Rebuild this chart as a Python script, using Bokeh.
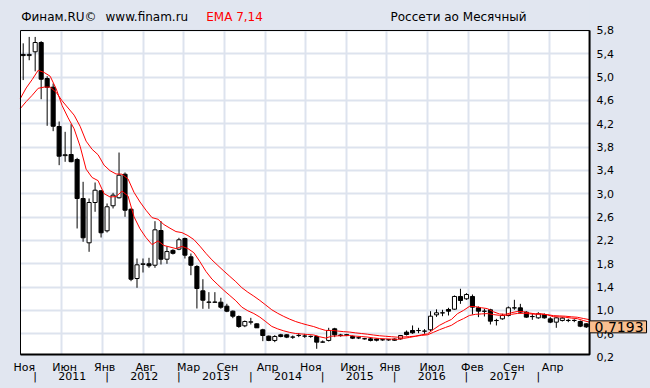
from bokeh.plotting import figure
from bokeh.models import (Range1d, FixedTicker, CustomJSTickFormatter, LinearAxis,
                          Label, ColumnDataSource, BoxAnnotation)
from bokeh.embed import file_html
from bokeh.resources import INLINE

# ---- data (monthly candles, Nov 2010 .. Sep 2018) ----
opens = [5.39, 5.37, 5.435, 5.594, 4.977, 4.828, 4.154, 3.655, 3.674, 3.588,
         2.92, 2.16, 2.851, 3.052, 2.366, 2.795, 2.932, 3.336, 2.736, 1.548,
         1.79, 1.80, 1.776, 2.371, 1.879, 2.03, 2.051, 2.234, 1.92, 1.754,
         1.337, 1.14, 1.14, 1.142, 1.074, 0.988, 0.897, 0.737, 0.80, 0.771,
         0.669, 0.56, 0.486, 0.583, 0.583, 0.543, 0.571, 0.56, 0.554, 0.554,
         0.457, 0.486, 0.686, 0.58, 0.58, 0.554, 0.53, 0.514, 0.514, 0.51,
         0.497, 0.497, 0.51, 0.514, 0.628, 0.657, 0.655, 0.645, 0.669, 0.926,
         0.958, 1.017, 1.022, 1.24, 1.2, 1.24, 1.046, 0.986, 1.012, 0.827,
         0.857, 0.914, 1.044, 1.046, 0.971, 0.895, 0.874, 0.931, 0.857, 0.80,
         0.829, 0.83, 0.83, 0.811, 0.771]
highs = [5.58, 5.69, 5.69, 5.617, 5.016, 4.891, 4.24, 4.063, 4.194, 3.617,
         3.206, 2.92, 3.194, 3.06, 2.834, 3.017, 3.708, 3.366, 2.749, 1.891,
         1.891, 1.903, 2.531, 2.531, 2.10, 2.05, 2.246, 2.25, 1.977, 1.777,
         1.536, 1.314, 1.314, 1.218, 1.115, 1.0, 0.914, 0.828, 0.874, 0.78,
         0.686, 0.571, 0.577, 0.60, 0.594, 0.571, 0.611, 0.60, 0.571, 0.571,
         0.486, 0.703, 0.703, 0.60, 0.60, 0.57, 0.55, 0.53, 0.53, 0.52,
         0.51, 0.51, 0.52, 0.58, 0.657, 0.743, 0.703, 0.68, 0.988, 1.02,
         1.012, 1.046, 1.257, 1.372, 1.297, 1.274, 1.069, 1.029, 1.029, 0.857,
         0.943, 1.069, 1.183, 1.114, 0.988, 0.943, 0.971, 0.95, 0.886, 0.886,
         0.886, 0.857, 0.85, 0.829, 0.78]
lows = [4.95, 5.29, 5.10, 4.622, 4.166, 4.074, 3.491, 3.549, 3.54, 2.406,
        2.178, 2.006, 2.692, 2.251, 2.337, 2.749, 2.92, 2.606, 1.502, 1.389,
        1.651, 1.732, 1.732, 1.788, 1.80, 1.96, 2.034, 1.891, 1.605, 1.034,
        1.029, 1.029, 1.14, 1.029, 0.971, 0.868, 0.703, 0.714, 0.76, 0.70,
        0.474, 0.474, 0.457, 0.54, 0.526, 0.514, 0.543, 0.531, 0.531, 0.343,
        0.446, 0.468, 0.543, 0.55, 0.56, 0.51, 0.51, 0.50, 0.47, 0.47,
        0.48, 0.48, 0.48, 0.50, 0.571, 0.60, 0.611, 0.60, 0.646, 0.89,
        0.902, 0.914, 1.012, 1.114, 1.183, 0.931, 0.886, 0.897, 0.76, 0.743,
        0.84, 0.897, 1.012, 0.954, 0.874, 0.84, 0.857, 0.86, 0.783, 0.703,
        0.811, 0.80, 0.80, 0.714, 0.70]
closes = [5.37, 5.39, 5.594, 4.965, 4.828, 4.159, 3.645, 3.67, 3.551, 2.92,
          2.246, 2.851, 3.062, 2.332, 2.778, 2.977, 3.319, 2.719, 1.536, 1.783,
          1.80, 1.766, 2.383, 1.879, 2.01, 1.98, 2.212, 1.948, 1.776, 1.377,
          1.176, 1.145, 1.145, 1.056, 0.988, 0.902, 0.726, 0.811, 0.805, 0.703,
          0.571, 0.486, 0.554, 0.554, 0.543, 0.545, 0.573, 0.562, 0.556, 0.457,
          0.46, 0.657, 0.583, 0.571, 0.585, 0.525, 0.532, 0.516, 0.486, 0.49,
          0.499, 0.499, 0.49, 0.571, 0.588, 0.617, 0.657, 0.647, 0.902, 0.96,
          0.96, 0.988, 1.24, 1.171, 1.274, 1.057, 0.988, 0.988, 0.817, 0.829,
          0.914, 1.046, 1.046, 0.971, 0.886, 0.897, 0.943, 0.874, 0.80, 0.874,
          0.869, 0.829, 0.829, 0.731, 0.7193]

# EMA 7 and EMA 14 line values, Oct 2010 .. Sep 2018 (one per month)
ema7 = [4.63, 4.815, 4.959, 5.118, 5.080, 5.016, 4.802, 4.512, 4.302, 4.115,
        3.816, 3.423, 3.280, 3.226, 3.003, 2.946, 2.953, 3.045, 2.963, 2.606,
        2.400, 2.250, 2.129, 2.193, 2.114, 2.088, 2.061, 2.099, 2.061, 1.990,
        1.837, 1.671, 1.540, 1.441, 1.345, 1.256, 1.167, 1.057, 0.995, 0.948,
        0.887, 0.808, 0.727, 0.684, 0.651, 0.624, 0.605, 0.597, 0.588, 0.580,
        0.549, 0.527, 0.559, 0.565, 0.567, 0.571, 0.560, 0.553, 0.544, 0.529,
        0.519, 0.514, 0.510, 0.505, 0.522, 0.538, 0.558, 0.583, 0.599, 0.675,
        0.746, 0.799, 0.847, 0.945, 1.001, 1.070, 1.066, 1.047, 1.032, 0.978,
        0.941, 0.934, 0.962, 0.983, 0.980, 0.957, 0.942, 0.942, 0.925, 0.894,
        0.889, 0.884, 0.870, 0.860, 0.828, 0.801]
ema14 = [4.46, 4.581, 4.689, 4.809, 4.830, 4.830, 4.741, 4.594, 4.471, 4.349,
         4.158, 3.903, 3.763, 3.670, 3.491, 3.396, 3.340, 3.337, 3.255, 3.025,
         2.860, 2.719, 2.592, 2.564, 2.473, 2.411, 2.353, 2.335, 2.284, 2.215,
         2.103, 1.980, 1.868, 1.771, 1.676, 1.584, 1.493, 1.391, 1.314, 1.246,
         1.173, 1.093, 1.012, 0.951, 0.898, 0.851, 0.810, 0.778, 0.750, 0.724,
         0.688, 0.658, 0.658, 0.648, 0.637, 0.630, 0.616, 0.605, 0.593, 0.579,
         0.567, 0.558, 0.550, 0.542, 0.546, 0.552, 0.560, 0.573, 0.583, 0.626,
         0.670, 0.709, 0.746, 0.812, 0.860, 0.915, 0.934, 0.941, 0.947, 0.930,
         0.917, 0.916, 0.934, 0.949, 0.952, 0.943, 0.937, 0.938, 0.929, 0.912,
         0.907, 0.902, 0.892, 0.884, 0.863, 0.844]

# tick labels
month_pos = [0.2, 6.9, 13.6, 20.4, 27.6, 34.1, 40.8, 48.0, 55.0, 61.2, 68.2, 75.0, 81.9, 88.4]
month_lab = ["Ноя", "Июн", "Янв", "Авг", "Мар", "Сен", "Апр", "Ноя", "Июн", "Янв",
             "Июл", "Фев", "Сен", "Апр"]
year_sep = [2, 14, 26, 38, 50, 62, 74, 86]
year_pos = [8.2, 20.2, 32.2, 44.2, 56.2, 68.2, 80.2]
year_lab = ["2011", "2012", "2013", "2014", "2015", "2016", "2017"]
grid_x = [6.4, 13.2, 20.0, 26.8, 33.6, 40.4, 47.1, 53.9, 60.7, 67.5, 74.3, 81.1, 87.9]
y_ticks = [0.2, 0.6, 1.0, 1.4, 1.8, 2.2, 2.6, 3.0, 3.4, 3.8, 4.2, 4.6, 5.0, 5.4, 5.8]
last_price = 0.7193

# ---- layout: plot area (data units) inside a canvas-wide frame ----
X0, X1 = -0.45, 94.55          # plot area left/right
Y0, Y1 = 0.245, 5.8            # plot area bottom/top
BG = "#e1e6f0"
GRID = "#dde3ee"
FONT = "DejaVu Sans"

n = len(closes)
idx = list(range(n))
up = [c >= o for o, c in zip(opens, closes)]
src = ColumnDataSource(dict(
    x=idx, high=highs, low=lows,
    top=[max(o, c) for o, c in zip(opens, closes)],
    bottom=[min(o, c) for o, c in zip(opens, closes)],
    fill=["white" if u else "black" for u in up],
))

p = figure(width=650, height=388, output_backend="svg", toolbar_location=None,
           x_range=Range1d(-3.790, 104.725), y_range=Range1d(-0.3375, 6.3143),
           y_axis_location="right",
           min_border=0, min_border_left=0, min_border_right=0,
           min_border_top=0, min_border_bottom=0,
           background_fill_color=BG, border_fill_color=BG, outline_line_color=None)

# white plot area below everything
p.quad(left=[X0], right=[X1], bottom=[Y0], top=[Y1], fill_color="white",
       line_color=None, level="image")

p.xgrid.ticker = FixedTicker(ticks=grid_x)
p.ygrid.ticker = FixedTicker(ticks=y_ticks)
for g in (p.xgrid[0], p.ygrid[0]):
    g.grid_line_color = GRID
    g.grid_line_width = 2

# hide grid outside the plot area
for kw in (dict(top=Y0), dict(bottom=Y1), dict(right=X0), dict(left=X1)):
    p.add_layout(BoxAnnotation(fill_color=BG, fill_alpha=1, line_color=None,
                               level="underlay", **kw))

p.segment(x0="x", y0="low", x1="x", y1="high", source=src, color="black", line_width=1)
p.vbar(x="x", top="top", bottom="bottom", width=0.68, source=src,
       fill_color="fill", line_color="black", line_width=1)
# each month's EMA value is drawn at the month's right edge
p.line([k - 0.5 for k in range(len(ema7))], ema7, color="red", line_width=1)
p.line([k - 0.5 for k in range(len(ema14))], ema14, color="red", line_width=1)

# plot area border (heavier on the bottom and right)
p.quad(left=[X0], right=[X1], bottom=[Y0], top=[Y1], fill_color=None,
       line_color="black", line_width=1)
p.line([X0, X1, X1], [Y0, Y0, Y1], line_color="black", line_width=2)

# y axis (right side of the plot area)
ya = p.yaxis[0]
ya.fixed_location = X1
ya.ticker = FixedTicker(ticks=y_ticks)
ya.formatter = CustomJSTickFormatter(code="return tick.toFixed(1).replace('.', ',');")
ya.axis_line_color = None
ya.major_tick_line_color = None
ya.minor_tick_line_color = None
ya.major_label_standoff = 1
ya.major_label_text_font = FONT
ya.major_label_text_font_size = "11px"
ya.major_label_text_color = "black"

nearest = """
let best = 0, bd = 1e9;
for (let k = 0; k < pos.length; k++) { const d = Math.abs(pos[k] - tick); if (d < bd) { bd = d; best = k; } }
return lab[best];
"""
xa = p.xaxis[0]
xa.ticker = FixedTicker(ticks=month_pos)
xa.formatter = CustomJSTickFormatter(args=dict(pos=month_pos, lab=month_lab), code=nearest)
ya2_pos = year_sep + year_pos
ya2_lab = ["|"] * len(year_sep) + year_lab
yr = LinearAxis(ticker=FixedTicker(ticks=ya2_pos),
                formatter=CustomJSTickFormatter(args=dict(pos=ya2_pos, lab=ya2_lab), code=nearest))
p.add_layout(yr, "below")
for ax, so in ((xa, 0), (yr, 9)):
    ax.fixed_location = Y0
    ax.axis_line_color = None
    ax.major_tick_line_color = None
    ax.minor_tick_line_color = None
    ax.major_label_standoff = so
    ax.major_label_text_font = FONT
    ax.major_label_text_font_size = "11px"
    ax.major_label_text_color = "black"

# header texts (placed in data units of the shared scales)
for txt, x, col in (("Финам.RU©", -0.33, "black"), ("www.finam.ru", 13.74, "black"),
                    ("EMA 7,14", 30.55, "red"), ("Россети ао Месячный", 61.32, "black")):
    p.add_layout(Label(x=x, y=6.028, x_units="data", y_units="data", text=txt,
                       text_font=FONT, text_font_size="12px", text_color=col,
                       text_baseline="alphabetic", text_align="left"))

# last price tag
p.add_layout(Label(x=X1, y=last_price, x_units="data", y_units="data",
                   text="0,7193", text_font=FONT, text_font_size="14px", text_color="black",
                   text_baseline="middle", text_align="left",
                   background_fill_color="#f9bf8f", border_line_color="black",
                   padding=dict(left=5, right=3, top=1, bottom=1)))

html = file_html(p, INLINE, title="Россети ао")
html = html.replace("<head>", "<head><style>html,body{margin:0;padding:0;background:%s;overflow:hidden;}</style>" % BG, 1)
open("out.html", "w").write(html)
